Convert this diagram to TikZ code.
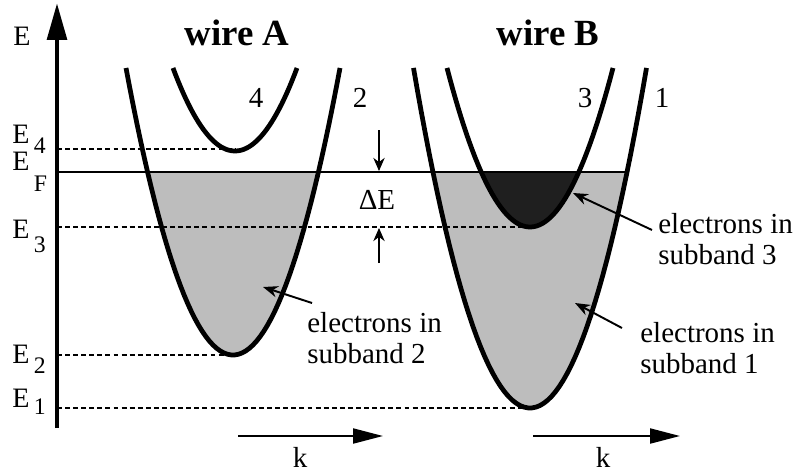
\documentclass[tikz,border=0pt]{standalone}
\usepackage{fontspec}
\setmainfont{Liberation Serif}
\usetikzlibrary{arrows.meta,calc}
\tikzset{
  band/.style={line width=2.7pt,draw=black},
  level/.style={line width=0.6pt,dash pattern=on 2.8pt off 1.8pt},
  fermi/.style={line width=1.3pt},
  eaxis/.style={line width=2.7pt,-{Triangle[length=21pt,width=11pt]}},
  kaxis/.style={line width=1.2pt,-{Triangle[length=17pt,width=8.5pt]}},
  gap/.style={-{Stealth[length=7.5pt,width=6.5pt]},line width=0.6pt},
  pointer/.style={-{Stealth[length=8.5pt,width=6.5pt]},line width=1.1pt},
  occupied/.style={fill=black!26},
  deepfill/.style={fill=black!88},
  note/.style={align=left,inner sep=0pt,anchor=north west,font=\fontsize{16.5}{17.5}\selectfont},
  num/.style={inner sep=0pt,font=\fontsize{16.5}{18}\selectfont},
  wiretitle/.style={inner sep=0pt,anchor=base,font=\fontsize{21}{24}\selectfont\bfseries},
  elabel/.style={inner sep=0pt,anchor=base west,font=\fontsize{16}{17}\selectfont}
}
\newcommand{\lev}[2]{E\hspace{2.5pt}\raisebox{-#2}{\fontsize{13.5}{13.5}\selectfont #1}}

\begin{document}
\begin{tikzpicture}[x=0.02cm,y=-0.02cm]
  \useasboundingbox (0,0) rectangle (801,474);
  \pgfmathsetmacro{\hA}{sqrt((355-172)/0.02507)}
  \pgfmathsetmacro{\hB}{sqrt((408-172)/0.02505)}
  \pgfmathsetmacro{\hC}{sqrt((227-172)/0.02308)}
  % filled states below E_F
  \fill[occupied] plot[domain=-\hA:\hA,samples=60] ({233+\x},{355-0.02507*\x*\x}) -- cycle;
  \fill[occupied] plot[domain=-\hB:\hB,samples=60] ({530+\x},{408-0.02505*\x*\x}) -- cycle;
  \fill[deepfill] plot[domain=-\hC:\hC,samples=60] ({530+\x},{227-0.02308*\x*\x}) -- cycle;
  % energy levels
  \coordinate (O) at (57,428);
  \coordinate (Etop) at (57,3);
  \coordinate (F0) at (57,172);
  \coordinate (F1) at ({530+\hB},172);
  \coordinate (min4) at (235,149);
  \coordinate (min3) at (530,227);
  \coordinate (min2) at (233,355);
  \coordinate (min1) at (530,408);
  \draw[level] (57,149) -- (min4);
  \draw[level] (57,227) -- (min3);
  \draw[level] (57,355) -- (min2);
  \draw[level] (57,408) -- (min1);
  \draw[fermi] (F0) -- (F1);
  \draw[eaxis] (O) -- (Etop);
  % subbands
  \draw[band] plot[domain=-107:107,samples=60] ({233+\x},{355-0.02507*\x*\x});
  \draw[band] plot[domain=-62:62,samples=50] ({235+\x},{151-0.02159*\x*\x});
  \draw[band] plot[domain=-116.5:116.5,samples=60] ({530+\x},{408-0.02505*\x*\x});
  \draw[band] plot[domain=-83:83,samples=60] ({530+\x},{227-0.02308*\x*\x});
  % labels on the axis
  \node[elabel] (lE) at (13,45) {E};
  \node[elabel] (lE4) at (12,143) {\lev{4}{5.7pt}};
  \node[elabel] (lEF) at (12,170) {\lev{F}{12pt}};
  \node[elabel] (lE3) at (12,238) {\lev{3}{8.5pt}};
  \node[elabel] (lE2) at (12,363) {\lev{2}{5.7pt}};
  \node[elabel] (lE1) at (12,407) {\lev{1}{4.5pt}};
  % titles and band numbers
  \node[wiretitle] (tA) at (237,45) {wire A};
  \node[wiretitle] (tB) at (548,45) {wire B};
  \node[num] (b4) at (256,98) {4};
  \node[num] (b2) at (360,98) {2};
  \node[num] (b3) at (585,98) {3};
  \node[num] (b1) at (662,98) {1};
  % Delta E
  \coordinate (dEa) at (379,130);
  \coordinate (dEb) at (379,171);
  \coordinate (dEc) at (379,263);
  \coordinate (dEd) at (379,228);
  \draw[gap] (dEa) -- (dEb);
  \draw[gap] (dEc) -- (dEd);
  \node[inner sep=0pt,anchor=base,font=\fontsize{16.5}{18}\selectfont] (dE) at (377,209) {ΔE};
  % notes
  \node[note] (n2) at (307,312) {electrons in\\subband 2};
  \node[note] (n3) at (658,213) {electrons in\\subband 3};
  \node[note] (n1) at (640,322) {electrons in\\subband 1};
  \coordinate (t2) at (263,287);
  \coordinate (t3) at (573,193);
  \coordinate (t1) at (575,303);
  \draw[pointer] ($(n2.north west)+(5,-9)$) -- (t2);
  \draw[pointer] ($(n3.north west)+(-6,17)$) -- (t3);
  \draw[pointer] ($(n1.north west)+(-18,6)$) -- (t1);
  % k axes
  \coordinate (kA0) at (238,436);
  \coordinate (kA1) at (383,436);
  \coordinate (kB0) at (533,436);
  \coordinate (kB1) at (680,436);
  \draw[kaxis] (kA0) -- (kA1);
  \draw[kaxis] (kB0) -- (kB1);
  \node[num,anchor=base] (kA) at (300,467) {k};
  \node[num,anchor=base] (kB) at (603,467) {k};
\end{tikzpicture}
\end{document}
